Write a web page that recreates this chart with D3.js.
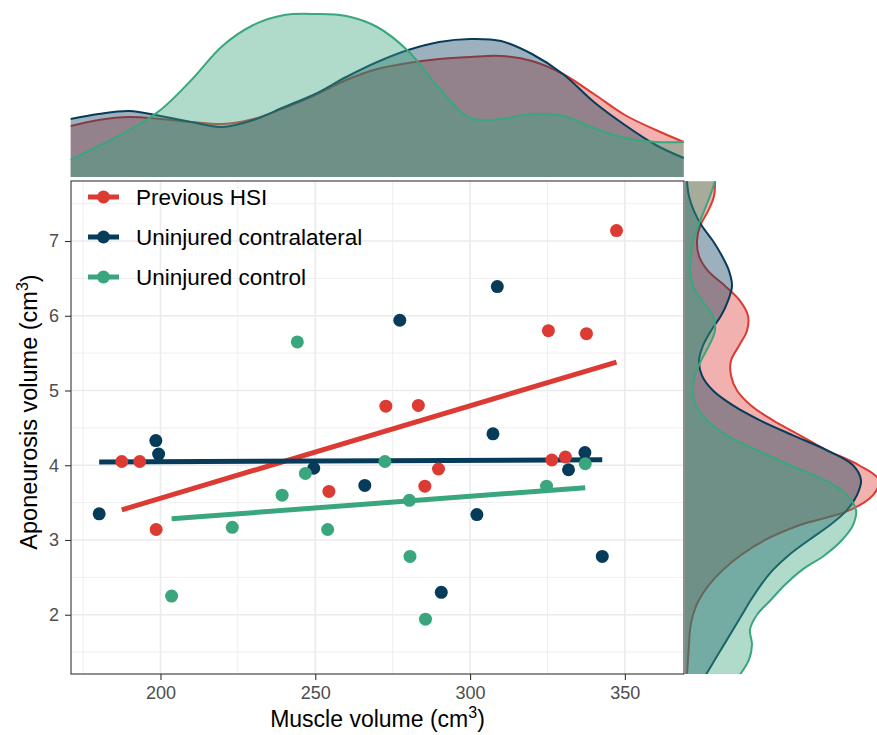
<!DOCTYPE html>
<html>
<head>
<meta charset="utf-8">
<script src="https://cdn.jsdelivr.net/npm/d3@7"></script>
<style>
  body { margin: 0; background: #fff; }
  svg { display: block; font-family: "Liberation Sans", Arial, sans-serif; }
</style>
</head>
<body>
<div id="chart"></div>
<script>
// groups and colours
const groups = ["Previous HSI", "Uninjured contralateral", "Uninjured control"];
const colours = ["#DC3B34", "#073B5A", "#3AA67D"];

// muscle volume (x) and aponeurosis volume (y), cm3
const hsiMuscle = [187.5, 193.3, 198.6, 254.4, 272.8, 283.3, 285.4, 289.8, 325.3, 326.4, 330.8, 337.6, 347.3];
const hsiApo    = [4.05, 4.05, 3.14, 3.65, 4.79, 4.80, 3.72, 3.95, 5.80, 4.07, 4.11, 5.76, 7.14];
const contraMuscle = [180.2, 198.5, 199.4, 249.5, 266.0, 277.3, 290.7, 302.2, 307.4, 308.8, 331.8, 337.1, 342.7];
const contraApo    = [3.35, 4.33, 4.15, 3.96, 3.73, 5.94, 2.30, 3.34, 4.42, 6.39, 3.94, 4.17, 2.78];
const controlMuscle = [203.6, 223.2, 239.3, 244.2, 246.8, 254.0, 272.5, 280.4, 280.6, 285.6, 324.7, 337.2];
const controlApo    = [2.25, 3.17, 3.60, 5.65, 3.89, 3.14, 4.05, 3.53, 2.78, 1.94, 3.72, 4.02];

// marginal densities (relative height)
const xDensityGrid = [171, 180, 190, 200, 210, 220, 230, 240, 250, 260, 270, 280, 290, 300, 310, 320, 330, 340, 350, 360, 369];
const xDensityHsi     = [51, 57, 60, 58, 55, 53, 58, 69, 82, 97, 108, 114, 118, 120, 121, 116, 103, 83, 62, 47, 35];
const xDensityContra  = [58, 63, 66, 61, 55, 50, 57, 70, 83, 100, 115, 127, 135, 138, 136, 123, 103, 75, 52, 32, 19];
const xDensityControl = [17, 31, 47, 67, 97, 131, 152, 162, 163, 161, 150, 126, 89, 59, 58, 63, 61, 49, 39, 35, 35];

const yDensityGrid = [1.2, 1.4, 1.6, 1.8, 2.0, 2.2, 2.4, 2.6, 2.8, 3.0, 3.2, 3.4, 3.6, 3.8, 4.0, 4.2, 4.4,
                      4.6, 4.8, 5.0, 5.2, 5.4, 5.6, 5.8, 6.0, 6.2, 6.4, 6.6, 6.8, 7.0, 7.2, 7.4, 7.6, 7.8];
const yDensityHsi     = [2, 3, 4, 5, 8, 14, 24, 38, 56, 80, 115, 165, 188, 194, 174, 142, 115,
                         88, 66, 52, 46, 46, 54, 62, 63, 55, 40, 23, 14, 12, 15, 23, 29, 30];
const yDensityContra  = [21, 30, 39, 48, 57, 66, 76, 88, 104, 124, 145, 162, 172, 176, 168, 142, 108,
                         75, 48, 28, 17, 14, 18, 26, 36, 43, 47, 44, 37, 28, 17, 9, 4, 2];
const yDensityControl = [55, 64, 67, 65, 72, 86, 100, 117, 140, 157, 168, 171, 162, 140, 105, 72, 42,
                         22, 11, 8, 10, 16, 24, 30, 28, 17, 8, 5, 6, 8, 13, 19, 25, 30];

const xTicks = [200, 250, 300, 350];
const yTicks = [2, 3, 4, 5, 6, 7];

const w = 877, h = 735;
const panel = {left: 71, right: 684, top: 181, bottom: 674};

const svg = d3.select("#chart").append("svg")
    .attr("width", w)
    .attr("height", h);

const x = d3.scaleLinear().domain([171.1, 369.1]).range([panel.left, panel.right]);
const y = d3.scaleLinear().domain([1.207, 7.803]).range([panel.bottom, panel.top]);

const series = [
    {name: groups[0], col: colours[0], mx: hsiMuscle, ay: hsiApo, dx: xDensityHsi, dy: yDensityHsi},
    {name: groups[1], col: colours[1], mx: contraMuscle, ay: contraApo, dx: xDensityContra, dy: yDensityContra},
    {name: groups[2], col: colours[2], mx: controlMuscle, ay: controlApo, dx: xDensityControl, dy: yDensityControl}
];

const smooth = d3.curveCatmullRom.alpha(0.5);

// ---- top marginal density ----
const topBase = 177;
const dTop = d3.scaleLinear().domain([0, 163]).range([topBase, 14]);
const topArea = d3.area()
    .x((d, i) => x(xDensityGrid[i]))
    .y0(topBase)
    .y1(d => dTop(d))
    .curve(smooth);
const topLine = d3.line()
    .x((d, i) => x(xDensityGrid[i]))
    .y(d => dTop(d))
    .curve(smooth);

const topG = svg.append("g");
series.forEach(s => {
    topG.append("path").attr("d", topArea(s.dx))
        .attr("fill", s.col).attr("fill-opacity", 0.4);
    topG.append("path").attr("d", topLine(s.dx))
        .attr("fill", "none").attr("stroke", s.col).attr("stroke-width", 2);
});

// ---- right marginal density ----
const rightBase = 685;
const dRight = d3.scaleLinear().domain([0, 192]).range([rightBase, 877]);
const rightArea = d3.area()
    .y((d, i) => y(yDensityGrid[i]))
    .x0(rightBase)
    .x1(d => dRight(d))
    .curve(smooth);
const rightLine = d3.line()
    .y((d, i) => y(yDensityGrid[i]))
    .x(d => dRight(d))
    .curve(smooth);

svg.append("clipPath").attr("id", "rclip")
    .append("rect").attr("x", rightBase).attr("y", panel.top)
    .attr("width", w - rightBase).attr("height", panel.bottom - panel.top);
const rightG = svg.append("g").attr("clip-path", "url(#rclip)");
series.forEach(s => {
    rightG.append("path").attr("d", rightArea(s.dy))
        .attr("fill", s.col).attr("fill-opacity", 0.4);
    rightG.append("path").attr("d", rightLine(s.dy))
        .attr("fill", "none").attr("stroke", s.col).attr("stroke-width", 2);
});

// ---- main panel ----
const grid = svg.append("g");
const xMinor = [175, 225, 275, 325];
const yMinor = [1.5, 2.5, 3.5, 4.5, 5.5, 6.5, 7.5];
grid.selectAll(".xminor").data(xMinor).enter().append("line")
    .attr("x1", d => x(d)).attr("x2", d => x(d))
    .attr("y1", panel.top).attr("y2", panel.bottom)
    .attr("stroke", "#EBEBEB").attr("stroke-width", 0.8);
grid.selectAll(".yminor").data(yMinor).enter().append("line")
    .attr("y1", d => y(d)).attr("y2", d => y(d))
    .attr("x1", panel.left).attr("x2", panel.right)
    .attr("stroke", "#EBEBEB").attr("stroke-width", 0.8);
grid.selectAll(".xmajor").data(xTicks).enter().append("line")
    .attr("x1", d => x(d)).attr("x2", d => x(d))
    .attr("y1", panel.top).attr("y2", panel.bottom)
    .attr("stroke", "#EBEBEB").attr("stroke-width", 1.6);
grid.selectAll(".ymajor").data(yTicks).enter().append("line")
    .attr("y1", d => y(d)).attr("y2", d => y(d))
    .attr("x1", panel.left).attr("x2", panel.right)
    .attr("stroke", "#EBEBEB").attr("stroke-width", 1.6);

// regression lines (least squares per group)
function fitLine(xs, ys) {
    const mx = d3.mean(xs), my = d3.mean(ys);
    let sxy = 0, sxx = 0;
    xs.forEach((v, i) => { sxy += (v - mx) * (ys[i] - my); sxx += (v - mx) * (v - mx); });
    const b = sxy / sxx;
    return {b: b, a: my - b * mx};
}
series.forEach(s => {
    const f = fitLine(s.mx, s.ay);
    const ext = d3.extent(s.mx);
    svg.append("line")
        .attr("x1", x(ext[0])).attr("y1", y(f.a + f.b * ext[0]))
        .attr("x2", x(ext[1])).attr("y2", y(f.a + f.b * ext[1]))
        .attr("stroke", s.col).attr("stroke-width", 5);
});

// points
series.forEach(s => {
    svg.append("g").selectAll("circle")
        .data(s.mx.map((v, i) => [v, s.ay[i]]))
        .enter().append("circle")
        .attr("cx", d => x(d[0])).attr("cy", d => y(d[1]))
        .attr("r", 6.5)
        .attr("fill", s.col);
});

// panel border
svg.append("rect")
    .attr("x", panel.left).attr("y", panel.top)
    .attr("width", panel.right - panel.left).attr("height", panel.bottom - panel.top)
    .attr("fill", "none").attr("stroke", "#333333").attr("stroke-width", 1.1);

// axes
const xAxis = svg.append("g")
    .attr("transform", "translate(0," + panel.bottom + ")")
    .call(d3.axisBottom(x).tickValues(xTicks).tickFormat(d3.format("d")).tickSize(6).tickPadding(6));
const yAxis = svg.append("g")
    .attr("transform", "translate(" + panel.left + ",0)")
    .call(d3.axisLeft(y).tickValues(yTicks).tickFormat(d3.format("d")).tickSize(6).tickPadding(6));
[xAxis, yAxis].forEach(a => {
    a.select(".domain").remove();
    a.selectAll(".tick line").attr("stroke", "#333333").attr("stroke-width", 1.1);
    a.selectAll(".tick text")
        .attr("fill", "#4D4D4D")
        .style("font-size", "18px")
        .style("font-family", "'Liberation Sans', Arial, sans-serif");
});

// axis titles
const xt = svg.append("text")
    .attr("x", (panel.left + panel.right) / 2).attr("y", 727)
    .attr("text-anchor", "middle")
    .style("font-size", "23px").attr("fill", "#000");
xt.append("tspan").text("Muscle volume (cm");
xt.append("tspan").text("3").style("font-size", "16px").attr("dy", "-0.55em");
xt.append("tspan").text(")").attr("dy", "0.4em");

const yt = svg.append("text")
    .attr("transform", "translate(37,412) rotate(-90)")
    .attr("text-anchor", "middle")
    .style("font-size", "23.5px").attr("fill", "#000");
yt.append("tspan").text("Aponeurosis volume (cm");
yt.append("tspan").text("3").style("font-size", "16px").attr("dy", "-0.55em");
yt.append("tspan").text(")").attr("dy", "0.4em");

// legend
const legend = svg.append("g");
series.forEach((s, i) => {
    const ly = 197 + i * 40;
    legend.append("line")
        .attr("x1", 88).attr("x2", 119).attr("y1", ly).attr("y2", ly)
        .attr("stroke", s.col).attr("stroke-width", 5);
    legend.append("circle")
        .attr("cx", 103.5).attr("cy", ly).attr("r", 6.5).attr("fill", s.col);
    legend.append("text")
        .attr("x", 136).attr("y", ly).attr("dy", "0.36em")
        .style("font-size", "22.5px").attr("fill", "#000")
        .text(s.name);
});
</script>
</body>
</html>
